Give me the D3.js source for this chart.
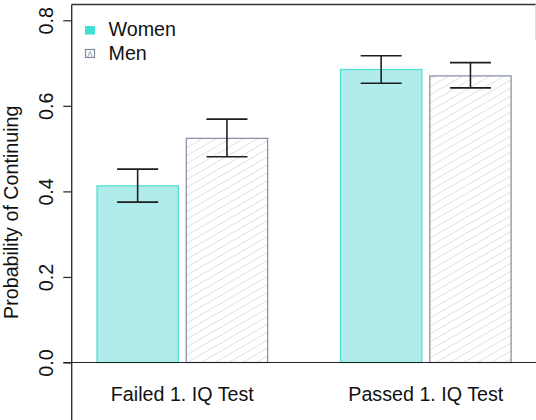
<!DOCTYPE html>
<html>
<head>
<meta charset="utf-8">
<script src="https://cdn.jsdelivr.net/npm/d3@7"></script>
<style>
  html, body { margin: 0; padding: 0; background: #fff; }
  svg { display: block; font-family: "Liberation Sans", Arial, sans-serif; }
</style>
</head>
<body>
<svg id="chart" width="536" height="420"></svg>
<script>
// Probability of continuing, by sex and first IQ test outcome
const categories = ["Failed 1. IQ Test", "Passed 1. IQ Test"];
const groups = ["Women", "Men"];
const womenValues = [0.413, 0.685];
const womenLower  = [0.375, 0.653];
const womenUpper  = [0.452, 0.717];
const menValues   = [0.524, 0.670];
const menLower    = [0.481, 0.642];
const menUpper    = [0.569, 0.701];
const yTicks = [0, 0.2, 0.4, 0.6, 0.8];
const yTickLabels = ["0.0", "0.2", "0.4", "0.6", "0.8"];

const rows = [];
categories.forEach((c, i) => {
  rows.push({cat: c, grp: "Women", v: womenValues[i], lo: womenLower[i], hi: womenUpper[i]});
  rows.push({cat: c, grp: "Men",   v: menValues[i],   lo: menLower[i],   hi: menUpper[i]});
});

const svg = d3.select("#chart");
const W = 536, H = 420;
const axisX = 71.7, topY = 4.5;
const fontSize = 19.7;

const y = d3.scaleLinear().domain([0, 0.8]).range([362.5, 20.3]);
const x0 = d3.scaleBand().domain(categories).range([97, 511.1]).paddingInner(0.2994).paddingOuter(0);
const x1 = d3.scaleBand().domain(groups).range([0, x0.bandwidth()]).paddingInner(0.0896).paddingOuter(0);

// hatch pattern for the Men bars: thin grey lines rising to the right
const defs = svg.append("defs");
const pat = defs.append("pattern")
  .attr("id", "hatch")
  .attr("patternUnits", "userSpaceOnUse")
  .attr("width", 6.9).attr("height", 12)
  .attr("patternTransform", "rotate(60)");
pat.append("line")
  .attr("x1", 0).attr("y1", 0).attr("x2", 0).attr("y2", 12)
  .attr("stroke", "#cfcfcf").attr("stroke-width", 1.2);

const colors = {
  Women: {fill: "#b0ecec", stroke: "#52e0d4"},
  Men:   {fill: "url(#hatch)", stroke: "#8a93a4"}
};

// bars
svg.append("g").selectAll("rect")
  .data(rows)
  .join("rect")
  .attr("x", d => x0(d.cat) + x1(d.grp))
  .attr("y", d => y(d.v))
  .attr("width", x1.bandwidth())
  .attr("height", d => y(0) - y(d.v))
  .attr("fill", d => colors[d.grp].fill)
  .attr("stroke", d => colors[d.grp].stroke)
  .attr("stroke-width", 1.3);

// error bars
const capHalf = 20.5;
const eb = svg.append("g").attr("stroke", "#1e1e1e").attr("stroke-width", 1.6);
rows.forEach(d => {
  const cx = x0(d.cat) + x1(d.grp) + x1.bandwidth() / 2;
  eb.append("line").attr("x1", cx).attr("x2", cx).attr("y1", y(d.hi)).attr("y2", y(d.lo));
  eb.append("line").attr("x1", cx - capHalf).attr("x2", cx + capHalf).attr("y1", y(d.hi)).attr("y2", y(d.hi));
  eb.append("line").attr("x1", cx - capHalf).attr("x2", cx + capHalf).attr("y1", y(d.lo)).attr("y2", y(d.lo));
});

// zero line across the plot
svg.append("line")
  .attr("x1", 63.3).attr("x2", W).attr("y1", y(0)).attr("y2", y(0))
  .attr("stroke", "#222").attr("stroke-width", 1.2);

// plot frame: left and top
svg.append("line").attr("x1", axisX).attr("x2", axisX).attr("y1", topY).attr("y2", H)
  .attr("stroke", "#333").attr("stroke-width", 1.4);
svg.append("line").attr("x1", axisX).attr("x2", W).attr("y1", topY).attr("y2", topY)
  .attr("stroke", "#333").attr("stroke-width", 1.4);
svg.append("line").attr("x1", W - 0.5).attr("x2", W - 0.5).attr("y1", topY).attr("y2", 40)
  .attr("stroke", "#ddd").attr("stroke-width", 1);

// y axis
const yAxis = d3.axisLeft(y).tickValues(yTicks)
  .tickFormat((d, i) => yTickLabels[i]).tickSize(8.4).tickPadding(0);
const ga = svg.append("g").attr("transform", `translate(${axisX},0)`).call(yAxis);
ga.select(".domain").remove();
ga.selectAll(".tick line").attr("stroke", "#222").attr("stroke-width", 1.2);
ga.selectAll(".tick text")
  .attr("x", 0).attr("dy", null)
  .attr("transform", d => `translate(${52.7 - axisX},0) rotate(-90)`)
  .attr("text-anchor", "middle")
  .attr("font-size", fontSize)
  .attr("font-family", "Liberation Sans, Arial, sans-serif")
  .attr("fill", "#111");

// y axis title
svg.append("text")
  .attr("transform", `translate(18.3,${(topY + H) / 2}) rotate(-90)`)
  .attr("text-anchor", "middle")
  .attr("font-size", fontSize)
  .attr("fill", "#111")
  .text("Probability of Continuing");

// category labels
svg.append("g").selectAll("text")
  .data(categories)
  .join("text")
  .attr("x", d => x0(d) + x0.bandwidth() / 2)
  .attr("y", 401)
  .attr("text-anchor", "middle")
  .attr("font-size", fontSize)
  .attr("fill", "#111")
  .text(d => d);

// legend
const lg = svg.append("g");
lg.append("rect").attr("x", 85).attr("y", 26).attr("width", 10).attr("height", 8.5)
  .attr("fill", "#40e0d0");
lg.append("rect").attr("x", 85.5).attr("y", 49.5).attr("width", 9).attr("height", 8)
  .attr("fill", "#fff").attr("stroke", "#7f8aa0").attr("stroke-width", 1.2);
lg.append("path").attr("d", "M87.5,57.5 L90,51.5 L92.5,57.5")
  .attr("fill", "none").attr("stroke", "#9aa3b3").attr("stroke-width", 1);
lg.selectAll("text.lab")
  .data(groups)
  .join("text")
  .attr("class", "lab")
  .attr("x", 108.5)
  .attr("y", (d, i) => 36 + i * 23.7)
  .attr("font-size", fontSize)
  .attr("fill", "#111")
  .text(d => d);
</script>
</body>
</html>
